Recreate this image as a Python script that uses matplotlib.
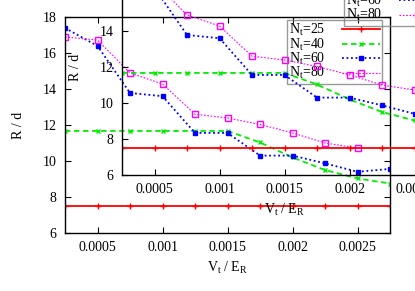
import matplotlib
matplotlib.use('Agg')
import matplotlib.pyplot as plt
import numpy as np

plt.rcParams['font.family'] = ['Liberation Serif', 'DejaVu Serif']
plt.rcParams['mathtext.fontset'] = 'custom'
plt.rcParams['mathtext.rm'] = 'Liberation Serif'
plt.rcParams['mathtext.it'] = 'Liberation Serif:italic'
plt.rcParams['font.size'] = 10

# data
vt = [0.00025, 0.0005, 0.00075, 0.001, 0.00125, 0.0015, 0.00175, 0.002, 0.00225, 0.0025, 0.00275]
r_n25 = [7.5, 7.5, 7.5, 7.5, 7.5, 7.5, 7.5, 7.5, 7.5, 7.5, 7.5]
r_n40 = [11.67, 11.67, 11.67, 11.67, 11.67, 11.67, 11.03, 10.2, 9.5, 9.03, 8.75]
r_n60 = [17.39, 16.39, 13.78, 13.6, 11.56, 11.56, 10.3, 10.3, 9.87, 9.4, 9.56]
r_n80 = [16.89, 16.72, 14.89, 14.28, 12.6, 12.39, 12.03, 11.56, 11.0, 10.72, np.nan]
labels = [r'N$_{\mathrm{t}}$=25', r'N$_{\mathrm{t}}$=40', r'N$_{\mathrm{t}}$=60', r'N$_{\mathrm{t}}$=80']
xticks = [0.0005, 0.001, 0.0015, 0.002, 0.0025]
xticklabels = ['0.0005', '0.001', '0.0015', '0.002', '0.0025']
yticks = [6, 8, 10, 12, 14, 16, 18]

W, H = 415, 291
fig = plt.figure(figsize=(W / 100, H / 100), dpi=100)


def rect(l, t, r, b):
    return [l / W, 1 - b / H, (r - l) / W, (b - t) / H]


def draw(ax):
    ax.plot(vt, r_n25, color='#ff0000', lw=1.3, marker='+', ms=4.5, mew=1, label=labels[0])
    ax.plot(vt, r_n40, color='#00ee00', lw=1.3, ls=(0, (3, 2)), marker='x', ms=3.5, mew=1, label=labels[1])
    ax.plot(vt, r_n60, color='#0000ff', lw=1.3, ls=(0, (1, 1.5)), marker='s', ms=3, label=labels[2])
    ax.plot(vt, r_n80, color='#ff00ff', lw=0.8, ls=(0, (1.5, 1.5)), marker='s', ms=4.2,
            mfc='none', mew=1, label=labels[3])
    ax.set_xlim(0.00025, 0.00275)
    ax.set_ylim(6, 18)
    ax.set_xticks(xticks)
    ax.set_xticklabels(xticklabels)
    ax.set_yticks(yticks)
    ax.tick_params(direction='in', top=True, right=True, length=4, width=0.8, pad=6, labelsize=10)
    for s in ax.spines.values():
        s.set_color('black')
        s.set_linewidth(1)
    ax.set_xlabel(r'V$_{\mathrm{t}}$ / E$_{\mathrm{R}}$', fontsize=10, labelpad=4)
    ax.set_ylabel('R / d', fontsize=10, labelpad=13)
    leg = ax.legend(loc='upper right', bbox_to_anchor=((382 - 65) / 325, (233 - 20) / 216),
                    markerfirst=False, handlelength=2.75, fontsize=10, frameon=True,
                    fancybox=False, borderpad=0.15, labelspacing=-0.12, handletextpad=1.2,
                    borderaxespad=0)
    leg.get_frame().set_edgecolor('#808080')
    leg.get_frame().set_facecolor('none')
    leg.get_frame().set_linewidth(1)


ax_main = fig.add_axes(rect(65, 17, 390, 233))
draw(ax_main)
ax_in = fig.add_axes(rect(122, -41, 447, 175))
ax_in.patch.set_alpha(0)
draw(ax_in)

fig.savefig('out.png', dpi=100)
